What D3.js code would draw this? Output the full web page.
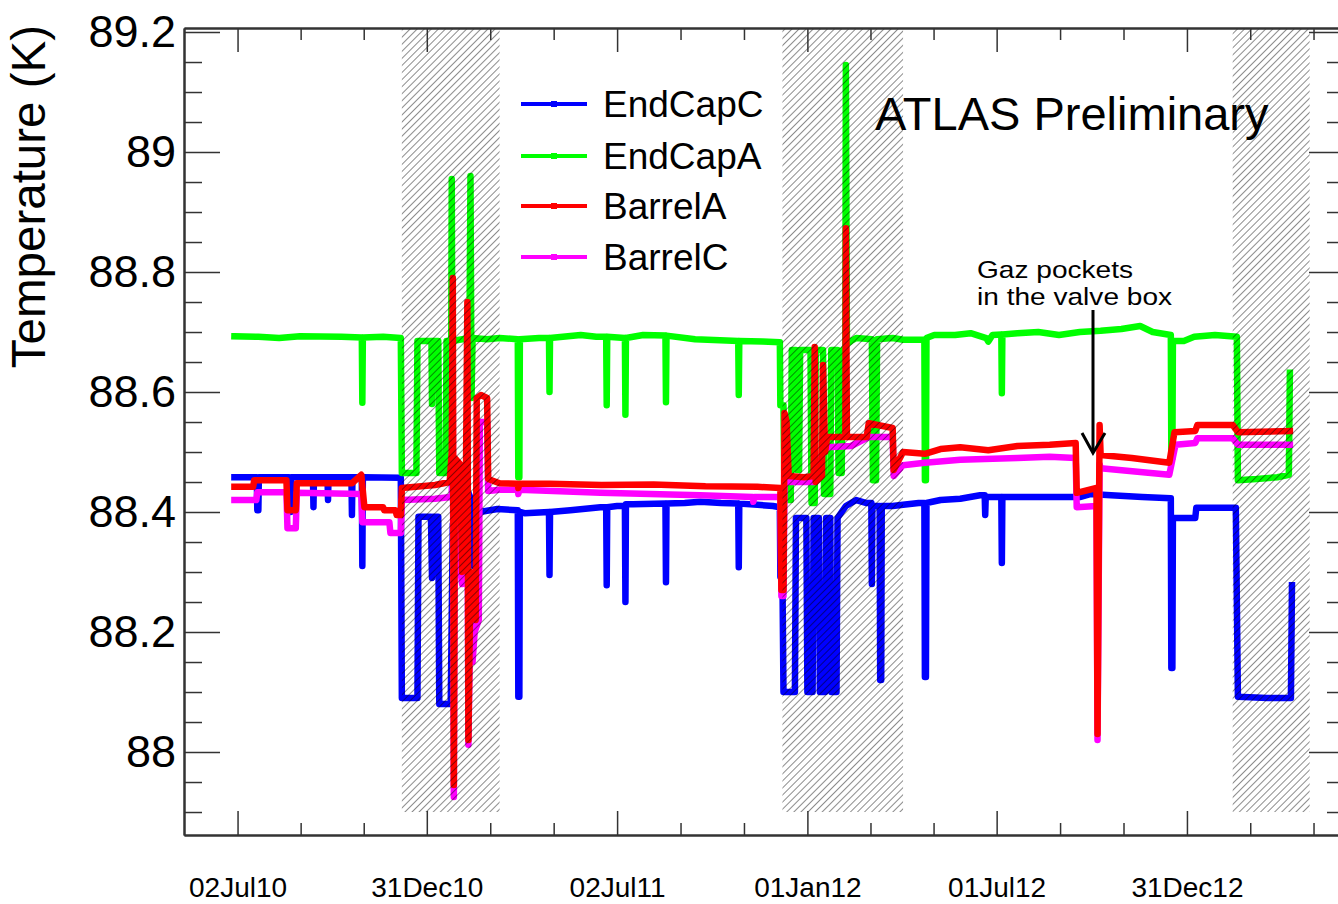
<!DOCTYPE html>
<html>
<head>
<meta charset="utf-8">
<script src="https://cdn.jsdelivr.net/npm/d3@7"></script>
<style>
  html, body { margin: 0; padding: 0; background: #fff; }
  svg { display: block; font-family: "Liberation Sans", Arial, Helvetica, sans-serif; }
</style>
</head>
<body>
<svg id="chart" width="1338" height="904"></svg>
<script>
// ---------------- DATA ----------------
// Time is expressed as days since 02 Jul 2010; values in K.
const baseDate = "2010-07-02";

const seriesNames = ["EndCapC", "EndCapA", "BarrelA", "BarrelC"];
const seriesColors = ["#0000ff", "#00ff00", "#ff0000", "#ff00ff"];

const endCapC = [
  [-3, 88.458], [18, 88.458], [18.5, 88.458], [19, 88.403], [20, 88.403], [20.5, 88.458],
  [45, 88.458], [49.5, 88.458], [50, 88.40], [51, 88.40], [51.5, 88.458],
  [72.5, 88.458], [73, 88.408], [73.5, 88.458], [86.5, 88.458], [87, 88.42], [87.5, 88.458],
  [109.5, 88.458], [110, 88.395], [110.5, 88.458], [119.5, 88.458], [120, 88.31], [120.5, 88.458],
  [157, 88.457], [158, 88.09], [173, 88.09], [174, 88.392], [186, 88.392], [187, 88.29],
  [188, 88.392], [193, 88.392], [194, 88.08], [205, 88.08], [207, 88.38], [215, 88.40],
  [220, 88.44], [225, 88.42], [227, 88.31], [229, 88.40], [233, 88.40], [240, 88.402],
  [250, 88.405], [269.5, 88.403], [270, 88.092], [271, 88.092], [271.5, 88.40], [276, 88.398],
  [299.5, 88.40], [300, 88.295], [300.5, 88.40], [320, 88.403], [349, 88.408],
  [354.5, 88.408], [355, 88.278], [355.5, 88.408], [365, 88.41], [372.5, 88.41], [373, 88.25],
  [373.5, 88.413], [380, 88.413], [411.5, 88.414], [412, 88.283], [412.5, 88.414], [430, 88.415],
  [445, 88.417], [465, 88.415], [481.5, 88.414], [482, 88.308], [482.5, 88.414], [500, 88.412],
  [515, 88.41], [521.5, 88.408], [522, 88.292], [524, 88.292], [525, 88.10], [536, 88.10],
  [537, 88.39], [547, 88.39], [548, 88.10], [553, 88.10], [554, 88.39], [559, 88.39],
  [560, 88.10], [565, 88.10], [566, 88.39], [570, 88.39], [571, 88.10], [576, 88.10],
  [577, 88.39], [585, 88.41], [595, 88.42], [605, 88.415], [609.5, 88.415], [610, 88.28],
  [610.5, 88.41], [617.5, 88.41], [618, 88.12], [619, 88.12], [619.5, 88.41], [630, 88.41],
  [640, 88.412], [655, 88.415], [660.5, 88.415], [661, 88.125], [662, 88.125], [662.5, 88.415],
  [676, 88.42], [695, 88.422], [714, 88.428], [718.5, 88.428], [719, 88.395], [719.5, 88.425],
  [734.5, 88.425], [735, 88.315], [735.5, 88.425], [750, 88.425], [781, 88.425], [810, 88.425],
  [820, 88.43], [840, 88.428], [870, 88.425], [897.5, 88.423], [898, 88.14], [899, 88.14],
  [899.5, 88.39], [921, 88.39], [922, 88.407], [960, 88.407], [962, 88.092], [990, 88.09],
  [1013, 88.09], [1014, 88.278]
];

const endCapA = [
  [-3, 88.693], [20, 88.692], [40, 88.690], [60, 88.693], [100, 88.692], [119.5, 88.691],
  [120, 88.582], [120.5, 88.691], [140, 88.692], [157, 88.69], [158, 88.465], [172, 88.465],
  [173, 88.685], [186.5, 88.685], [187, 88.58], [187.5, 88.685], [193, 88.685], [194, 88.465],
  [200, 88.465], [201, 88.685], [205.5, 88.685], [206, 88.955], [206.5, 88.685], [223, 88.69],
  [224, 88.96], [225, 88.59], [226, 88.69], [240, 88.688], [252, 88.69], [269.5, 88.688],
  [270, 88.458], [271, 88.458], [271.5, 88.688], [290, 88.69], [299.5, 88.69], [300, 88.60],
  [300.5, 88.69], [330, 88.695], [345, 88.692], [354.5, 88.692], [355, 88.578], [355.5, 88.692],
  [372.5, 88.69], [373, 88.562], [373.5, 88.69], [390, 88.695], [411.5, 88.694], [412, 88.583],
  [412.5, 88.694], [440, 88.688], [470, 88.686], [481.5, 88.685], [482, 88.595], [482.5, 88.685],
  [505, 88.684], [521.5, 88.683], [522, 88.578], [525, 88.578], [526, 88.42], [532, 88.42],
  [533, 88.67], [537, 88.67], [538, 88.47], [540, 88.47], [541, 88.67], [551, 88.67],
  [552, 88.415], [555, 88.415], [556, 88.67], [563, 88.67], [564, 88.43], [570, 88.43],
  [571, 88.67], [577, 88.67], [578, 88.465], [581, 88.465], [582, 88.67], [584.5, 88.675],
  [585, 89.145], [586, 88.68], [590, 88.685], [595, 88.69], [610, 88.688], [611, 88.453],
  [614, 88.453], [615, 88.688], [630, 88.69], [640, 88.687], [655, 88.687], [660.5, 88.687],
  [661, 88.453], [662, 88.453], [662.5, 88.69], [670, 88.695], [690, 88.695], [705, 88.698],
  [720, 88.69], [722, 88.684], [726, 88.695], [734.5, 88.696], [735, 88.598], [735.5, 88.696],
  [750, 88.698], [770, 88.70], [790, 88.695], [810, 88.70], [830, 88.702], [850, 88.705],
  [868, 88.71], [880, 88.70], [897.5, 88.695], [898, 88.49], [899, 88.49], [899.5, 88.685],
  [910, 88.685], [920, 88.692], [940, 88.695], [961, 88.692], [962, 88.453], [980, 88.455],
  [1000, 88.458], [1011, 88.462], [1012, 88.632]
];

const barrelA = [
  [-3, 88.442], [15, 88.442], [16, 88.453], [47, 88.453], [48, 88.403], [56, 88.403],
  [57, 88.448], [110, 88.448], [119, 88.462], [122, 88.408], [140, 88.408], [141, 88.403],
  [152, 88.403], [153, 88.395], [157, 88.395], [158, 88.44], [190, 88.445], [204, 88.45],
  [206, 88.50], [207, 88.79], [208, 87.945], [209, 88.49], [214, 88.48], [216, 88.30],
  [219, 88.33], [221, 88.75], [222, 88.02], [224, 88.30], [229, 88.22], [230, 88.59],
  [234, 88.595], [240, 88.59], [241, 88.455], [252, 88.448], [269.5, 88.447], [270, 88.44],
  [271, 88.447], [300, 88.447], [350, 88.445], [400, 88.446], [450, 88.443], [500, 88.442],
  [522, 88.44], [523, 88.27], [525, 88.27], [526, 88.565], [528, 88.55], [530, 88.46],
  [545, 88.458], [554, 88.46], [555, 88.675], [556, 88.45], [562, 88.46], [563, 88.645],
  [565, 88.50], [567, 88.525], [584.5, 88.525], [585, 88.873], [586, 88.525], [605, 88.525],
  [607, 88.548], [630, 88.54], [631, 88.47], [640, 88.50], [661, 88.497], [676, 88.505],
  [695, 88.508], [722, 88.503], [750, 88.51], [781, 88.512], [806, 88.515], [807, 88.432],
  [826, 88.44], [827, 88.03], [829, 88.545], [830, 88.495], [860, 88.49], [896, 88.482],
  [901, 88.533], [921, 88.535], [923, 88.545], [957, 88.545], [962, 88.533], [1012, 88.535]
];

const barrelC = [
  [-3, 88.42], [18, 88.42], [19, 88.433], [47, 88.433], [48, 88.373], [56, 88.373],
  [57, 88.432], [119, 88.43], [120, 88.383], [146, 88.383], [147, 88.365], [157, 88.365],
  [158, 88.42], [190, 88.422], [205, 88.425], [206, 88.43], [207, 88.60], [208, 87.925],
  [209, 88.42], [213, 88.32], [216, 88.28], [221, 88.50], [222, 88.012], [224, 88.25],
  [226, 88.15], [228, 88.20], [232, 88.22], [233, 88.55], [240, 88.55], [241, 88.435],
  [252, 88.437], [269.5, 88.437], [270, 88.43], [271, 88.437], [349, 88.432], [445, 88.428],
  [495.5, 88.425], [496, 88.417], [497, 88.425], [522, 88.425], [523, 88.26], [525, 88.26],
  [526, 88.45], [555, 88.45], [563, 88.50], [567, 88.508], [590, 88.51], [607, 88.525],
  [630, 88.525], [631, 88.46], [640, 88.478], [661, 88.482], [695, 88.487], [750, 88.49],
  [781, 88.492], [806, 88.49], [807, 88.408], [826, 88.41], [827, 88.02], [829, 88.48],
  [830, 88.473], [896, 88.462], [902, 88.512], [921, 88.515], [923, 88.523], [957, 88.523],
  [962, 88.512], [1012, 88.512]
];

// hatched periods (days since 02 Jul 2010)
const hatchStart = [158, 524, 957];
const hatchEnd   = [252, 640, 1031];
const hatchBottom = 87.9;

// axis ticks
const majorTickLabels = ["02Jul10", "31Dec10", "02Jul11", "01Jan12", "01Jul12", "31Dec12"];
const majorTickDays   = [0, 182, 365, 548, 730, 913];
const yMajorTicks = [88, 88.2, 88.4, 88.6, 88.8, 89, 89.2];

const annotationLines = ["Gaz pockets", "in the valve box"];
const titleText = "ATLAS Preliminary";
const yTitle = "Temperature (K)";

// ---------------- CHART ----------------
const base = Date.parse(baseDate + "T00:00:00Z");
const toDate = d => new Date(base + d * 86400000);

const svg = d3.select("#chart");
const L = 184, R = 1345, T = 28, B = 835;

const x = d3.scaleUtc().domain([toDate(-51.5), toDate(1065)]).range([L, R]);
const y = d3.scaleLinear().domain([87.8617, 89.2067]).range([B, T]);

// data lines
const line = d3.line().x(d => x(toDate(d[0]))).y(d => y(d[1]));
const allSeries = [endCapC, endCapA, barrelC, barrelA];
const allColors = [seriesColors[0], seriesColors[1], seriesColors[3], seriesColors[2]];
svg.append("g").selectAll("path").data(allSeries).join("path")
  .attr("d", line)
  .attr("fill", "none")
  .attr("stroke", (d, i) => allColors[i])
  .attr("stroke-width", 6.5)
  .attr("stroke-linejoin", "round")
  .attr("stroke-linecap", "square");

// hatch pattern
const defs = svg.append("defs");
defs.append("pattern").attr("id", "hatch")
  .attr("patternUnits", "userSpaceOnUse")
  .attr("width", 5).attr("height", 5)
  .attr("patternTransform", "rotate(45)")
  .append("line").attr("x1", 0).attr("y1", 0).attr("x2", 0).attr("y2", 5)
  .attr("stroke", "#000").attr("stroke-width", 0.9);

svg.append("g").selectAll("rect").data(hatchStart).join("rect")
  .attr("x", (d) => x(toDate(d)))
  .attr("width", (d, i) => x(toDate(hatchEnd[i])) - x(toDate(d)))
  .attr("y", T)
  .attr("height", y(hatchBottom) - T)
  .attr("fill", "url(#hatch)");

// axes
const majorDates = majorTickDays.map(toDate);
const step = (majorTickDays[majorTickDays.length - 1] - majorTickDays[0]) / (majorTickDays.length - 1);
const minorDays = [];
for (let i = 0; i < majorTickDays.length; i++) {
  const a = majorTickDays[i];
  const b = i < majorTickDays.length - 1 ? majorTickDays[i + 1] : a + step;
  minorDays.push(a + (b - a) / 3, a + 2 * (b - a) / 3);
}
const minorDates = minorDays.map(toDate).filter(d => x(d) < R - 2);
const yMinor = d3.range(87.9, 89.2, 0.05).map(v => +v.toFixed(2))
  .filter(v => !yMajorTicks.some(m => Math.abs(m - v) < 1e-6));

const axisColor = "#333";
function styleAxis(g) {
  g.selectAll("line").attr("stroke", axisColor).attr("stroke-width", 1.5);
  g.select(".domain").attr("stroke", axisColor).attr("stroke-width", 2);
}

// bottom
svg.append("g").attr("transform", `translate(0,${B})`)
  .call(d3.axisBottom(x).tickValues(majorDates).tickSize(-24).tickSizeOuter(0)
    .tickFormat((d, i) => majorTickLabels[i]).tickPadding(42))
  .call(styleAxis)
  .call(g => g.selectAll("text").attr("font-size", 28).attr("fill", "#000")
    .attr("font-family", "Liberation Sans, Arial, sans-serif").attr("dy", "0.71em"));
svg.append("g").attr("transform", `translate(0,${B})`)
  .call(d3.axisBottom(x).tickValues(minorDates).tickSize(-12).tickSizeOuter(0).tickFormat(""))
  .call(styleAxis);
// top
svg.append("g").attr("transform", `translate(0,${T})`)
  .call(d3.axisTop(x).tickValues(majorDates).tickSize(-24).tickSizeOuter(0).tickFormat(""))
  .call(styleAxis);
svg.append("g").attr("transform", `translate(0,${T})`)
  .call(d3.axisTop(x).tickValues(minorDates).tickSize(-12).tickSizeOuter(0).tickFormat(""))
  .call(styleAxis);
// left
svg.append("g").attr("transform", `translate(${L},0)`)
  .call(d3.axisLeft(y).tickValues(yMajorTicks).tickSize(-36).tickSizeOuter(0)
    .tickFormat(d => d3.format("")(+d.toFixed(1))).tickPadding(8))
  .call(styleAxis)
  .call(g => g.selectAll("text").attr("font-size", 45).attr("fill", "#000")
    .attr("font-family", "Liberation Sans, Arial, sans-serif"));
svg.append("g").attr("transform", `translate(${L},0)`)
  .call(d3.axisLeft(y).tickValues(yMinor).tickSize(-18).tickSizeOuter(0).tickFormat(""))
  .call(styleAxis);
// right
svg.append("g").attr("transform", `translate(${R},0)`)
  .call(d3.axisRight(y).tickValues(yMajorTicks).tickSize(-36).tickSizeOuter(0).tickFormat(""))
  .call(styleAxis);
svg.append("g").attr("transform", `translate(${R},0)`)
  .call(d3.axisRight(y).tickValues(yMinor).tickSize(-18).tickSizeOuter(0).tickFormat(""))
  .call(styleAxis);

// y title
svg.append("text")
  .attr("transform", "translate(45,25) rotate(-90)")
  .attr("text-anchor", "end")
  .attr("font-size", 47.5)
  .attr("fill", "#000")
  .text(yTitle);

// ATLAS label
svg.append("text")
  .attr("x", 875).attr("y", 130)
  .attr("font-size", 47)
  .attr("fill", "#000")
  .text(titleText);

// legend
const legendRowsY = [104, 156, 206, 257];
const lg = svg.append("g");
seriesNames.forEach((name, i) => {
  const yy = legendRowsY[i];
  lg.append("line").attr("x1", 521).attr("x2", 587).attr("y1", yy).attr("y2", yy)
    .attr("stroke", seriesColors[i]).attr("stroke-width", 4);
  lg.append("rect").attr("x", 551).attr("y", yy - 3).attr("width", 6).attr("height", 6)
    .attr("fill", seriesColors[i]);
  lg.append("text").attr("x", 603).attr("y", yy + 13)
    .attr("font-size", 37).attr("fill", "#000").text(name);
});

// annotation (one multi-line text, slightly stretched horizontally as in the original)
const ann = svg.append("text")
  .attr("transform", "translate(977,0) scale(1.17,1)")
  .attr("x", 0).attr("y", 278)
  .attr("font-size", 24).attr("fill", "#000");
annotationLines.forEach((t, i) => {
  ann.append("tspan").attr("x", 0).attr("dy", i === 0 ? 0 : 27).text(t);
});
const ax = 1093;
svg.append("line").attr("x1", ax).attr("x2", ax).attr("y1", 310).attr("y2", 452)
  .attr("stroke", "#000").attr("stroke-width", 3);
svg.append("path").attr("d", `M${ax - 11},433 L${ax},453 L${ax + 12},433`)
  .attr("fill", "none").attr("stroke", "#000").attr("stroke-width", 3);
</script>
</body>
</html>
